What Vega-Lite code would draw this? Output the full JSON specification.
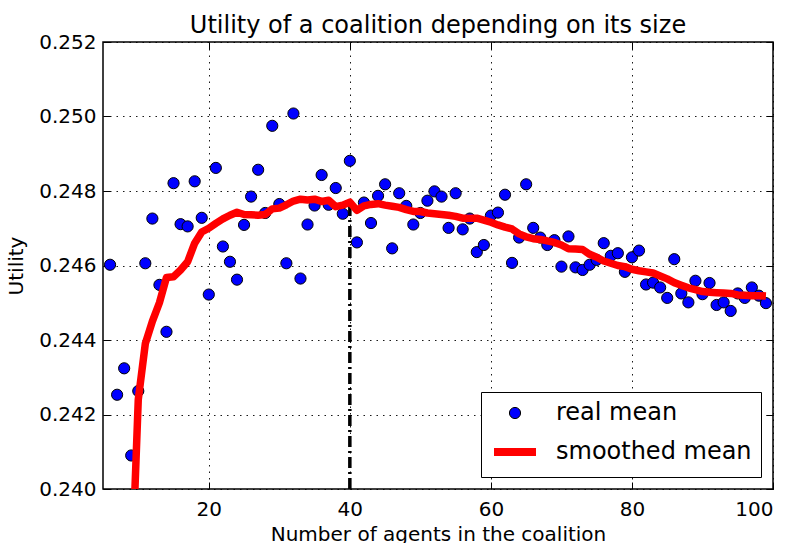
{
  "$schema": "https://vega.github.io/schema/vega-lite/v6.json",
  "width": 670,
  "height": 447,
  "autosize": {"type": "none"},
  "padding": {"left": 103, "top": 42, "right": 20, "bottom": 54},
  "background": "white",
  "config": {
    "font": "DejaVu Sans",
    "view": {"stroke": "black", "strokeWidth": 1.5},
    "axis": {
      "labelFont": "DejaVu Sans",
      "titleFont": "DejaVu Sans",
      "labelFontSize": 20,
      "titleFontSize": 20,
      "titleFontWeight": "normal",
      "labelColor": "black",
      "titleColor": "black",
      "tickColor": "black",
      "tickWidth": 1,
      "domain": false,
      "gridColor": "black",
      "gridDash": [1.5, 5],
      "gridWidth": 1,
      "gridOpacity": 0.9
    },
    "legend": {
      "labelFont": "DejaVu Sans",
      "labelFontSize": 24,
      "labelColor": "black"
    },
    "title": {
      "font": "DejaVu Sans",
      "fontSize": 24,
      "fontWeight": "normal",
      "color": "black",
      "anchor": "middle",
      "frame": "group",
      "baseline": "alphabetic",
      "offset": -6
    }
  },
  "title": "Utility of a coalition depending on its size",
  "datasets": {
    "real": [
      {"n": 6, "u": 0.24602}, {"n": 7, "u": 0.24253}, {"n": 8, "u": 0.24324}, {"n": 9, "u": 0.24090},
      {"n": 10, "u": 0.24263}, {"n": 11, "u": 0.24606}, {"n": 12, "u": 0.24726}, {"n": 13, "u": 0.24548},
      {"n": 14, "u": 0.24422}, {"n": 15, "u": 0.24821}, {"n": 16, "u": 0.24711}, {"n": 17, "u": 0.24705},
      {"n": 18, "u": 0.24826}, {"n": 19, "u": 0.24728}, {"n": 20, "u": 0.24522}, {"n": 21, "u": 0.24862},
      {"n": 22, "u": 0.24651}, {"n": 23, "u": 0.24610}, {"n": 24, "u": 0.24562}, {"n": 25, "u": 0.24709},
      {"n": 26, "u": 0.24785}, {"n": 27, "u": 0.24857}, {"n": 28, "u": 0.24741}, {"n": 29, "u": 0.24975},
      {"n": 30, "u": 0.24765}, {"n": 31, "u": 0.24606}, {"n": 32, "u": 0.25008}, {"n": 33, "u": 0.24565},
      {"n": 34, "u": 0.24710}, {"n": 35, "u": 0.24761}, {"n": 36, "u": 0.24843}, {"n": 37, "u": 0.24763},
      {"n": 38, "u": 0.24808}, {"n": 39, "u": 0.24739}, {"n": 40, "u": 0.24881}, {"n": 41, "u": 0.24662},
      {"n": 42, "u": 0.24769}, {"n": 43, "u": 0.24714}, {"n": 44, "u": 0.24787}, {"n": 45, "u": 0.24818},
      {"n": 46, "u": 0.24646}, {"n": 47, "u": 0.24794}, {"n": 48, "u": 0.24760}, {"n": 49, "u": 0.24710},
      {"n": 50, "u": 0.24741}, {"n": 51, "u": 0.24774}, {"n": 52, "u": 0.24799}, {"n": 53, "u": 0.24785},
      {"n": 54, "u": 0.24701}, {"n": 55, "u": 0.24794}, {"n": 56, "u": 0.24697}, {"n": 57, "u": 0.24726},
      {"n": 58, "u": 0.24636}, {"n": 59, "u": 0.24655}, {"n": 60, "u": 0.24734}, {"n": 61, "u": 0.24742},
      {"n": 62, "u": 0.24790}, {"n": 63, "u": 0.24607}, {"n": 64, "u": 0.24675}, {"n": 65, "u": 0.24818},
      {"n": 66, "u": 0.24701}, {"n": 67, "u": 0.24675}, {"n": 68, "u": 0.24655}, {"n": 69, "u": 0.24668},
      {"n": 70, "u": 0.24597}, {"n": 71, "u": 0.24678}, {"n": 72, "u": 0.24595}, {"n": 73, "u": 0.24588},
      {"n": 74, "u": 0.24602}, {"n": 75, "u": 0.24615}, {"n": 76, "u": 0.24660}, {"n": 77, "u": 0.24626},
      {"n": 78, "u": 0.24633}, {"n": 79, "u": 0.24583}, {"n": 80, "u": 0.24622}, {"n": 81, "u": 0.24640},
      {"n": 82, "u": 0.24549}, {"n": 83, "u": 0.24554}, {"n": 84, "u": 0.24541}, {"n": 85, "u": 0.24513},
      {"n": 86, "u": 0.24617}, {"n": 87, "u": 0.24525}, {"n": 88, "u": 0.24501}, {"n": 89, "u": 0.24559},
      {"n": 90, "u": 0.24523}, {"n": 91, "u": 0.24553}, {"n": 92, "u": 0.24494}, {"n": 93, "u": 0.24501},
      {"n": 94, "u": 0.24478}, {"n": 95, "u": 0.24525}, {"n": 96, "u": 0.24513}, {"n": 97, "u": 0.24541},
      {"n": 98, "u": 0.24519}, {"n": 99, "u": 0.24499}
    ],
    "smooth": [
      {"n": 9, "u": 0.2373}, {"n": 10, "u": 0.2424}, {"n": 11, "u": 0.2439}, {"n": 12, "u": 0.2445},
      {"n": 13, "u": 0.2450}, {"n": 14, "u": 0.24568}, {"n": 15, "u": 0.24570}, {"n": 16, "u": 0.24588},
      {"n": 17, "u": 0.24610}, {"n": 18, "u": 0.24660}, {"n": 19, "u": 0.24690}, {"n": 20, "u": 0.24700},
      {"n": 21, "u": 0.24713}, {"n": 22, "u": 0.24725}, {"n": 23, "u": 0.24735}, {"n": 24, "u": 0.24743},
      {"n": 25, "u": 0.24737}, {"n": 26, "u": 0.24736}, {"n": 27, "u": 0.24735}, {"n": 28, "u": 0.24737},
      {"n": 29, "u": 0.24752}, {"n": 30, "u": 0.24754}, {"n": 31, "u": 0.24763}, {"n": 32, "u": 0.24773},
      {"n": 33, "u": 0.24778}, {"n": 34, "u": 0.24776}, {"n": 35, "u": 0.24778}, {"n": 36, "u": 0.24772},
      {"n": 37, "u": 0.24775}, {"n": 38, "u": 0.24758}, {"n": 39, "u": 0.24762}, {"n": 40, "u": 0.24770},
      {"n": 41, "u": 0.24748}, {"n": 42, "u": 0.24760}, {"n": 43, "u": 0.24764}, {"n": 44, "u": 0.24766},
      {"n": 45, "u": 0.24762}, {"n": 46, "u": 0.24759}, {"n": 47, "u": 0.24756}, {"n": 48, "u": 0.24750},
      {"n": 49, "u": 0.24745}, {"n": 50, "u": 0.24745}, {"n": 51, "u": 0.24741}, {"n": 52, "u": 0.24739},
      {"n": 53, "u": 0.24737}, {"n": 54, "u": 0.24735}, {"n": 55, "u": 0.24732}, {"n": 56, "u": 0.24727},
      {"n": 57, "u": 0.24727}, {"n": 58, "u": 0.24727}, {"n": 59, "u": 0.24722}, {"n": 60, "u": 0.24716},
      {"n": 61, "u": 0.24709}, {"n": 62, "u": 0.24703}, {"n": 63, "u": 0.24698}, {"n": 64, "u": 0.24685},
      {"n": 65, "u": 0.24677}, {"n": 66, "u": 0.24672}, {"n": 67, "u": 0.24670}, {"n": 68, "u": 0.24666},
      {"n": 69, "u": 0.24662}, {"n": 70, "u": 0.24655}, {"n": 71, "u": 0.24645}, {"n": 72, "u": 0.24644},
      {"n": 73, "u": 0.24643}, {"n": 74, "u": 0.24630}, {"n": 75, "u": 0.24622}, {"n": 76, "u": 0.24612},
      {"n": 77, "u": 0.24606}, {"n": 78, "u": 0.24600}, {"n": 79, "u": 0.24597}, {"n": 80, "u": 0.24590},
      {"n": 81, "u": 0.24586}, {"n": 82, "u": 0.24583}, {"n": 83, "u": 0.24580}, {"n": 84, "u": 0.24572},
      {"n": 85, "u": 0.24564}, {"n": 86, "u": 0.24554}, {"n": 87, "u": 0.24547}, {"n": 88, "u": 0.24540},
      {"n": 89, "u": 0.24535}, {"n": 90, "u": 0.24530}, {"n": 91, "u": 0.24528}, {"n": 92, "u": 0.24527},
      {"n": 93, "u": 0.24526}, {"n": 94, "u": 0.24525}, {"n": 95, "u": 0.24521}, {"n": 96, "u": 0.24520},
      {"n": 97, "u": 0.24519}, {"n": 98, "u": 0.24519}, {"n": 99, "u": 0.24518}
    ],
    "marker": [
      {"n": 40, "u": 0.240, "u2": 0.24770}
    ]
  },
  "layer": [
    {
      "data": {"name": "real"},
      "transform": [{"calculate": "'real mean'", "as": "series"}],
      "mark": {"type": "point", "filled": true, "opacity": 1},
      "encoding": {
        "x": {
          "field": "n", "type": "quantitative",
          "scale": {"domain": [5, 100], "nice": false, "zero": false},
          "axis": {
            "orient": "bottom", "values": [20, 40, 60, 80, 100], "grid": true,
            "tickSize": -7, "labelPadding": 17, "title": "Number of agents in the coalition", "titlePadding": 5
          }
        },
        "y": {
          "field": "u", "type": "quantitative",
          "scale": {"domain": [0.240, 0.252], "nice": false, "zero": false},
          "axis": {
            "orient": "left", "values": [0.240, 0.242, 0.244, 0.246, 0.248, 0.250, 0.252], "format": ".3f", "grid": true,
            "tickSize": -7, "labelPadding": 14, "title": "Utility", "titlePadding": 12
          }
        },
        "color": {
          "field": "series", "type": "nominal",
          "scale": {"domain": ["real mean", "smoothed mean"], "range": ["#0000ff", "#ff0000"]},
          "legend": {
            "title": null,
            "orient": "bottom-right",
            "offset": 12,
            "strokeColor": "black",
            "fillColor": "white",
            "padding": 9,
            "labelOffset": 16,
            "labelLimit": 400,
            "rowPadding": 2
          }
        },
        "shape": {
          "field": "series", "type": "nominal",
          "scale": {"domain": ["real mean", "smoothed mean"], "range": ["circle", "M-1,0H1"]},
          "legend": {"title": null}
        },
        "size": {
          "field": "series", "type": "nominal",
          "scale": {"domain": ["real mean", "smoothed mean"], "range": [125, 1764]},
          "legend": {"title": null}
        },
        "strokeWidth": {
          "field": "series", "type": "nominal",
          "scale": {"domain": ["real mean", "smoothed mean"], "range": [1, 8]},
          "legend": {"title": null}
        },
        "stroke": {
          "field": "series", "type": "nominal",
          "scale": {"domain": ["real mean", "smoothed mean"], "range": ["#000000", "#ff0000"]},
          "legend": {"title": null}
        }
      }
    },
    {
      "data": {"name": "marker"},
      "mark": {"type": "rule", "color": "black", "strokeWidth": 3.5, "strokeDash": [11, 4, 2, 4]},
      "encoding": {
        "x": {"field": "n", "type": "quantitative", "axis": null},
        "y": {"field": "u", "type": "quantitative", "axis": null},
        "y2": {"field": "u2"}
      }
    },
    {
      "data": {"name": "smooth"},
      "mark": {"type": "line", "color": "#ff0000", "strokeWidth": 7.5, "clip": true, "strokeJoin": "round"},
      "encoding": {
        "x": {
          "field": "n", "type": "quantitative",
          "axis": {"orient": "top", "values": [20, 40, 60, 80, 100], "labels": false, "grid": false, "tickSize": -7, "title": null}
        },
        "y": {
          "field": "u", "type": "quantitative",
          "axis": {"orient": "right", "values": [0.240, 0.242, 0.244, 0.246, 0.248, 0.250, 0.252], "labels": false, "grid": false, "tickSize": -7, "title": null}
        }
      }
    }
  ]
}
